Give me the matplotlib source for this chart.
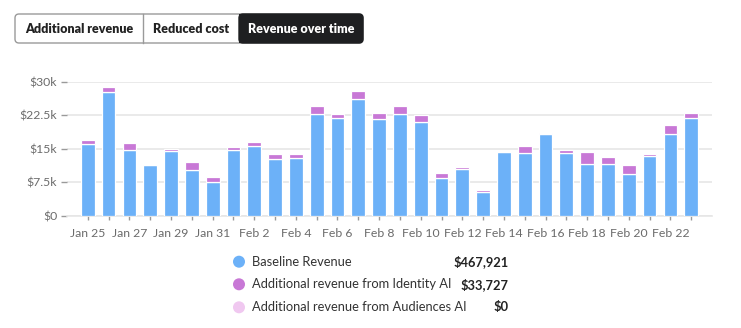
import matplotlib
matplotlib.use("Agg")
import matplotlib.pyplot as plt
from matplotlib.patches import FancyBboxPatch, Rectangle, Circle
import numpy as np

dates = ["Jan 25", "Jan 26", "Jan 27", "Jan 28", "Jan 29", "Jan 30", "Jan 31",
         "Feb 1", "Feb 2", "Feb 3", "Feb 4", "Feb 5", "Feb 6", "Feb 7", "Feb 8",
         "Feb 9", "Feb 10", "Feb 11", "Feb 12", "Feb 13", "Feb 14", "Feb 15",
         "Feb 16", "Feb 17", "Feb 18", "Feb 19", "Feb 20", "Feb 21", "Feb 22", "Feb 23"]
baseline = [16100, 27600, 14800, 11300, 14500, 10200, 7500, 14800, 15700, 12800,
            12900, 22700, 21900, 26200, 21700, 22800, 21000, 8400, 10400, 5200,
            14200, 14000, 18200, 14000, 11500, 11500, 9400, 13300, 18400, 21800]
identity_ai = [800, 1200, 1500, 0, 400, 1800, 1200, 600, 700, 1100,
               900, 1900, 900, 1800, 1300, 1800, 1600, 1100, 500, 600,
               0, 1700, 400, 800, 2700, 1600, 1900, 500, 2000, 1200]
audiences_ai = [0] * 30

legend_labels = ["Baseline Revenue", "Additional revenue from Identity AI",
                 "Additional revenue from Audiences AI"]
legend_totals = ["$467,921", "$33,727", "$0"]
tabs = ["Additional revenue", "Reduced cost", "Revenue over time"]
yticks = [0, 7500, 15000, 22500, 30000]
yticklabels = ["$0", "$7.5k", "$15k", "$22.5k", "$30k"]

c_blue = "#6cb1f8"
c_purple = "#c878d6"
c_pink = "#f0c8f0"
c_text = "#6b6b6b"
c_grid = "#e6e6e6"

FONT = "Lato"
W, H = 741, 328
fig = plt.figure(figsize=(W / 100, H / 100), dpi=100)

# overlay for UI elements (pixel coordinates)
ov = fig.add_axes([0, 0, 1, 1], zorder=0)
ov.set_xlim(0, W)
ov.set_ylim(H, 0)
ov.axis("off")

# segmented control
x0, x1, y0, y1 = 15, 363, 14, 43
ov.add_patch(FancyBboxPatch((x0, y0), x1 - x0, y1 - y0,
                            boxstyle="round,pad=0,rounding_size=4",
                            fc="white", ec="#9a9a9a", lw=1.0))
ov.add_patch(FancyBboxPatch((239, y0), x1 - 239, y1 - y0,
                            boxstyle="round,pad=0,rounding_size=4",
                            fc="#1e1f21", ec="#1e1f21", lw=1.0))
ov.add_patch(Rectangle((239, y0), 8, y1 - y0, fc="#1e1f21", ec="none"))
ov.plot([143, 143], [y0, y1], color="#9a9a9a", lw=1.0)
centers = [79, 191, 301]
for t, cx, col in zip(tabs, centers, ["#222222", "#222222", "white"]):
    ov.text(cx, (y0 + y1) / 2 + 0.5, t, ha="center", va="center",
            fontsize=9, fontweight="heavy", color=col, family=FONT)

# legend
leg_y = [261.7, 284.3, 307.3]
for lab, tot, col, yy in zip(legend_labels, legend_totals,
                             [c_blue, c_purple, c_pink], leg_y):
    ov.add_patch(Circle((239, yy), 6, fc=col, ec="none"))
    ov.text(252, yy, lab, ha="left", va="center", fontsize=9.3,
            color="#333333", family=FONT)
    ov.text(509, yy, tot, ha="right", va="center", fontsize=9.3,
            fontweight="bold", color="#222222", family=FONT)

# chart
ax = fig.add_axes([67 / W, 1 - 215.7 / H, (712 - 67) / W, (215.7 - 81.7) / H], zorder=1)
ax.patch.set_alpha(0)
x = np.arange(len(dates))
bw = 0.66
base = np.array(baseline)
ida = np.array(identity_ai)
aud = np.array(audiences_ai)
ax.bar(x, base, bw, color=c_blue, edgecolor="white", lw=0.9, zorder=3)
ax.bar(x, ida, bw, bottom=base, color=c_purple, edgecolor="white", lw=0.9, zorder=3)
ax.bar(x, aud, bw, bottom=base + ida, color=c_pink, edgecolor="none", lw=0, zorder=3)

ax.set_xlim(-1, len(dates))
ax.set_ylim(0, 30000)
ax.set_yticks(yticks)
ax.set_yticklabels(yticklabels)
ax.yaxis.grid(True, color=c_grid, lw=1.2, zorder=0)
ax.set_axisbelow(True)
ax.set_xticks(x)
ax.set_xticklabels([d if i % 2 == 0 else "" for i, d in enumerate(dates)])
for s in ["top", "right", "left"]:
    ax.spines[s].set_visible(False)
ax.spines["bottom"].set_color(c_grid)
ax.spines["bottom"].set_linewidth(1.2)
ax.tick_params(axis="x", length=3, width=1, color="#9a9a9a", pad=6,
               labelsize=8.8, labelcolor=c_text)
ax.tick_params(axis="y", length=4, width=1, color="#9a9a9a", pad=3,
               labelsize=8.8, labelcolor=c_text)
for lbl in ax.get_xticklabels() + ax.get_yticklabels():
    lbl.set_family(FONT)

fig.savefig("out.png", dpi=100, facecolor="white")
